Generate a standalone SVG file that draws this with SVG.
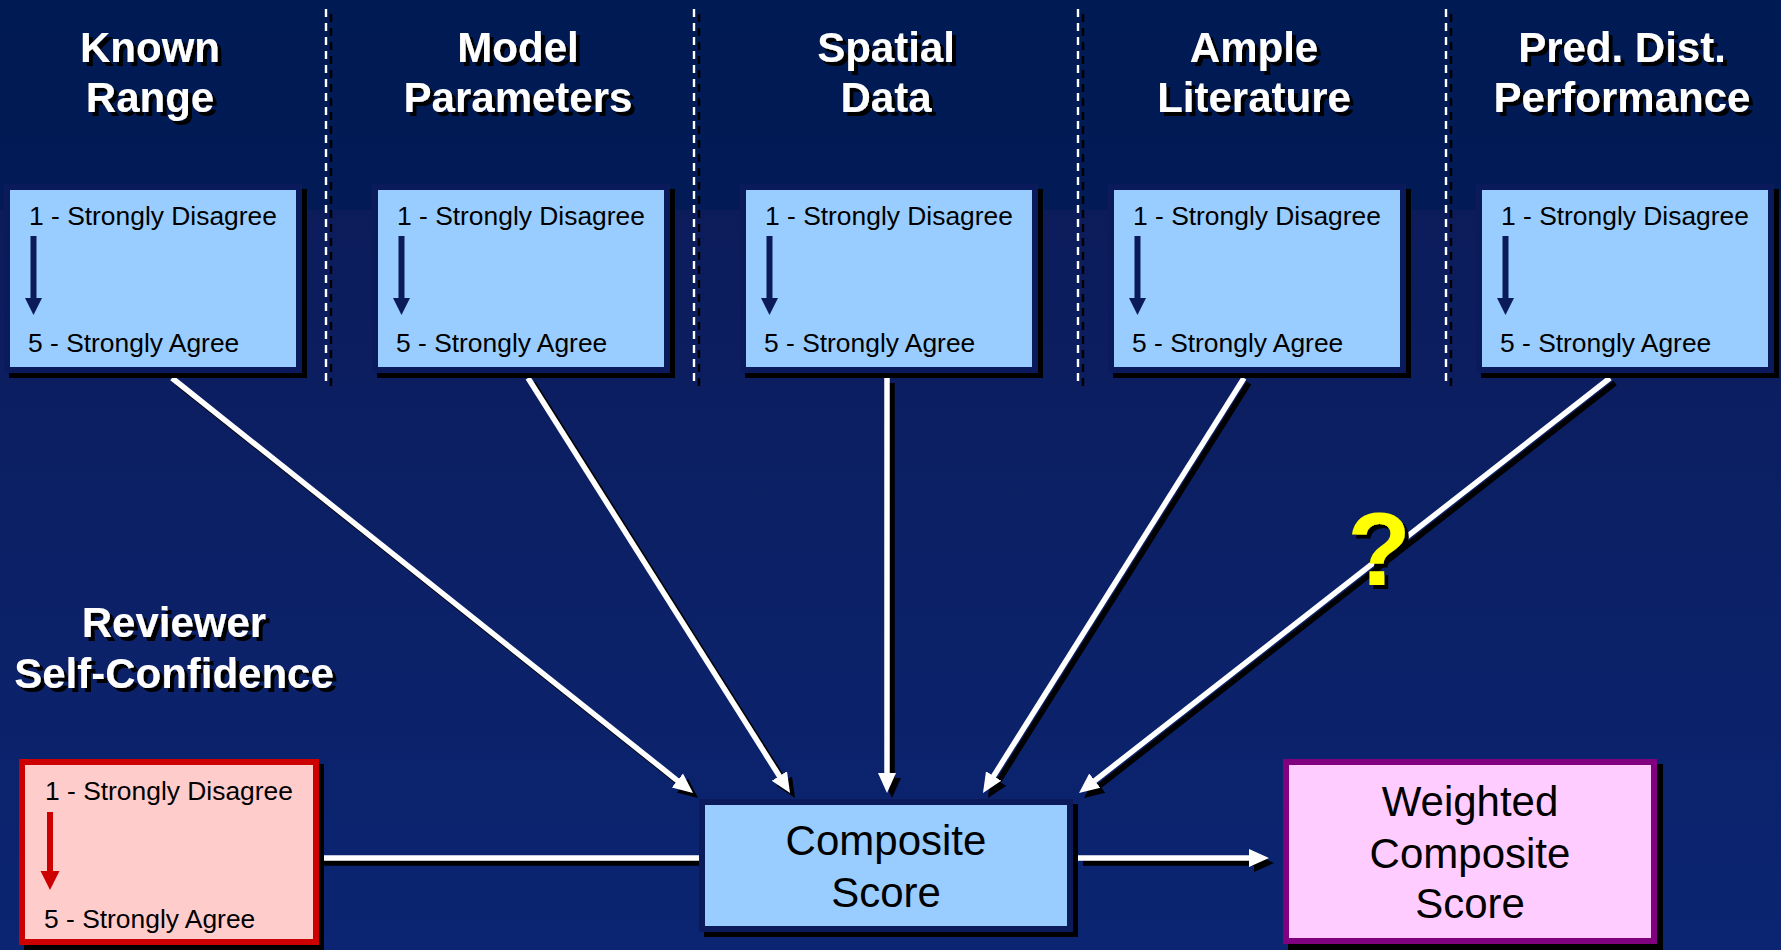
<svg xmlns="http://www.w3.org/2000/svg" width="1781" height="950" viewBox="0 0 1781 950">
<defs>
<linearGradient id="bg" x1="0" y1="0" x2="0" y2="1">
<stop offset="0" stop-color="#001a54"/>
<stop offset="0.22" stop-color="#021b56"/>
<stop offset="0.221" stop-color="#0c1c5b"/>
<stop offset="1" stop-color="#0b2572"/>
</linearGradient>
<filter id="ts" x="-10%" y="-20%" width="130%" height="150%">
<feFlood flood-color="#000000" result="f"/>
<feComposite in="f" in2="SourceAlpha" operator="in" result="s"/>
<feOffset in="s" dx="4" dy="4" result="o"/>
<feMerge><feMergeNode in="o"/><feMergeNode in="SourceGraphic"/></feMerge>
</filter>
<marker id="hw" markerUnits="userSpaceOnUse" markerWidth="22" markerHeight="22" refX="10" refY="11" orient="auto" viewBox="0 0 22 22"><path d="M0,2 L20,11 L0,20 z" fill="#ffffff"/></marker>
<marker id="hb" markerUnits="userSpaceOnUse" markerWidth="22" markerHeight="22" refX="10" refY="11" orient="auto" viewBox="0 0 22 22"><path d="M0,2 L20,11 L0,20 z" fill="#000000"/></marker>
<style>
.title{font-family:"Liberation Sans",Arial,sans-serif;font-weight:bold;font-size:42px;text-anchor:middle;fill:#ffffff;filter:url(#ts)}
.scale{font-family:"Liberation Sans",Arial,sans-serif;font-size:26.4px;fill:#000000}
.big{font-family:"Liberation Sans",Arial,sans-serif;font-size:42px;text-anchor:middle;fill:#000000}
.dash{stroke:#ffffff;stroke-width:2.4;stroke-dasharray:8 6}
.dashsh{stroke:#000000;stroke-width:2.4;stroke-dasharray:8 6}
.shadow{fill:#000000}
.bluebox{fill:#99ccff;stroke:#0b1a5a;stroke-width:6}
.arr{fill:#0b1a5a}
.conn{stroke:#ffffff;stroke-width:5.5;fill:none}
.connsh{stroke:#000000;stroke-width:5.5;fill:none}
.qm{font-family:"Liberation Sans",Arial,sans-serif;font-weight:bold;font-size:104px;text-anchor:middle;fill:#ffff00;filter:url(#ts)}
</style>
</defs>
<rect x="0" y="0" width="1781" height="950" fill="url(#bg)"/>

<g id="separators">
<line class="dashsh" x1="331" y1="14" x2="331" y2="388"/>
<line class="dash" x1="326" y1="9" x2="326" y2="383"/>
<line class="dashsh" x1="699" y1="14" x2="699" y2="388"/>
<line class="dash" x1="694" y1="9" x2="694" y2="383"/>
<line class="dashsh" x1="1083" y1="14" x2="1083" y2="388"/>
<line class="dash" x1="1078" y1="9" x2="1078" y2="383"/>
<line class="dashsh" x1="1451" y1="14" x2="1451" y2="388"/>
<line class="dash" x1="1446" y1="9" x2="1446" y2="383"/>
</g>

<g id="connectors">
<g transform="translate(5,5)">
<path class="connsh" d="M172,378 L685.2,786.8" marker-end="url(#hb)"/>
<path class="connsh" d="M528,378 L784.7,784.5" marker-end="url(#hb)"/>
<path class="connsh" d="M887,378 L887,783" marker-end="url(#hb)"/>
<path class="connsh" d="M1244,378 L988.3,784.5" marker-end="url(#hb)"/>
<path class="connsh" d="M1610,378 L1086.9,786.8" marker-end="url(#hb)"/>
<path class="connsh" d="M1078,858 L1259,858" marker-end="url(#hb)"/>
<path class="connsh" d="M319,858 L699,858"/>
</g>
<path class="conn" d="M172,378 L685.2,786.8" marker-end="url(#hw)"/>
<path class="conn" d="M528,378 L784.7,784.5" marker-end="url(#hw)"/>
<path class="conn" d="M887,378 L887,783" marker-end="url(#hw)"/>
<path class="conn" d="M1244,378 L988.3,784.5" marker-end="url(#hw)"/>
<path class="conn" d="M1610,378 L1086.9,786.8" marker-end="url(#hw)"/>
<path class="conn" d="M1078,858 L1259,858" marker-end="url(#hw)"/>
<path class="conn" d="M324,858 L699,858"/>
</g>

<g id="known-range">
<text class="title" x="150" y="62">Known</text>
<text class="title" x="150" y="112">Range</text>
<rect class="shadow" x="9" y="189" width="298" height="189"/>
<rect class="bluebox" x="7" y="187" width="292" height="183"/>
<text class="scale" x="29" y="225">1 - Strongly Disagree</text>
<rect class="arr" x="30.5" y="236" width="6" height="63"/>
<path class="arr" d="M25,298 L42,298 L33.5,315 z"/>
<text class="scale" x="28" y="352">5 - Strongly Agree</text>
</g>

<g id="model-parameters">
<text class="title" x="518" y="62">Model</text>
<text class="title" x="518" y="112">Parameters</text>
<rect class="shadow" x="377" y="189" width="298" height="189"/>
<rect class="bluebox" x="375" y="187" width="292" height="183"/>
<text class="scale" x="397" y="225">1 - Strongly Disagree</text>
<rect class="arr" x="398.5" y="236" width="6" height="63"/>
<path class="arr" d="M393,298 L410,298 L401.5,315 z"/>
<text class="scale" x="396" y="352">5 - Strongly Agree</text>
</g>

<g id="spatial-data">
<text class="title" x="886" y="62">Spatial</text>
<text class="title" x="886" y="112">Data</text>
<rect class="shadow" x="745" y="189" width="298" height="189"/>
<rect class="bluebox" x="743" y="187" width="292" height="183"/>
<text class="scale" x="765" y="225">1 - Strongly Disagree</text>
<rect class="arr" x="766.5" y="236" width="6" height="63"/>
<path class="arr" d="M761,298 L778,298 L769.5,315 z"/>
<text class="scale" x="764" y="352">5 - Strongly Agree</text>
</g>

<g id="ample-literature">
<text class="title" x="1254" y="62">Ample</text>
<text class="title" x="1254" y="112">Literature</text>
<rect class="shadow" x="1113" y="189" width="298" height="189"/>
<rect class="bluebox" x="1111" y="187" width="292" height="183"/>
<text class="scale" x="1133" y="225">1 - Strongly Disagree</text>
<rect class="arr" x="1134.5" y="236" width="6" height="63"/>
<path class="arr" d="M1129,298 L1146,298 L1137.5,315 z"/>
<text class="scale" x="1132" y="352">5 - Strongly Agree</text>
</g>

<g id="pred-dist-performance">
<text class="title" x="1622" y="62">Pred. Dist.</text>
<text class="title" x="1622" y="112">Performance</text>
<rect class="shadow" x="1481" y="189" width="298" height="189"/>
<rect class="bluebox" x="1479" y="187" width="292" height="183"/>
<text class="scale" x="1501" y="225">1 - Strongly Disagree</text>
<rect class="arr" x="1502.5" y="236" width="6" height="63"/>
<path class="arr" d="M1497,298 L1514,298 L1505.5,315 z"/>
<text class="scale" x="1500" y="352">5 - Strongly Agree</text>
</g>

<g id="reviewer-self-confidence">
<text class="title" x="174" y="637">Reviewer</text>
<text class="title" x="174" y="688">Self-Confidence</text>
<rect class="shadow" x="24" y="764" width="300" height="186"/>
<rect x="22" y="762" width="294" height="180" fill="#ffcccc" stroke="#cc0000" stroke-width="6"/>
<text class="scale" x="45" y="800">1 - Strongly Disagree</text>
<rect x="47" y="812" width="6" height="60" fill="#cc0000"/>
<path d="M40.5,871 L59.5,871 L50,890 z" fill="#cc0000"/>
<text class="scale" x="44" y="928">5 - Strongly Agree</text>
</g>

<g id="composite-score">
<rect class="shadow" x="704" y="804" width="374" height="133"/>
<rect class="bluebox" x="702" y="802" width="368" height="127"/>
<text class="big" x="886" y="855">Composite</text>
<text class="big" x="886" y="907">Score</text>
</g>

<g id="weighted-composite-score">
<rect class="shadow" x="1288" y="764" width="375" height="186"/>
<rect x="1286" y="762" width="368" height="179" fill="#ffccff" stroke="#800080" stroke-width="6"/>
<text class="big" x="1470" y="816">Weighted</text>
<text class="big" x="1470" y="868">Composite</text>
<text class="big" x="1470" y="918">Score</text>
</g>

<g id="question-mark">
<text class="qm" x="1379" y="585">?</text>
</g>
</svg>
